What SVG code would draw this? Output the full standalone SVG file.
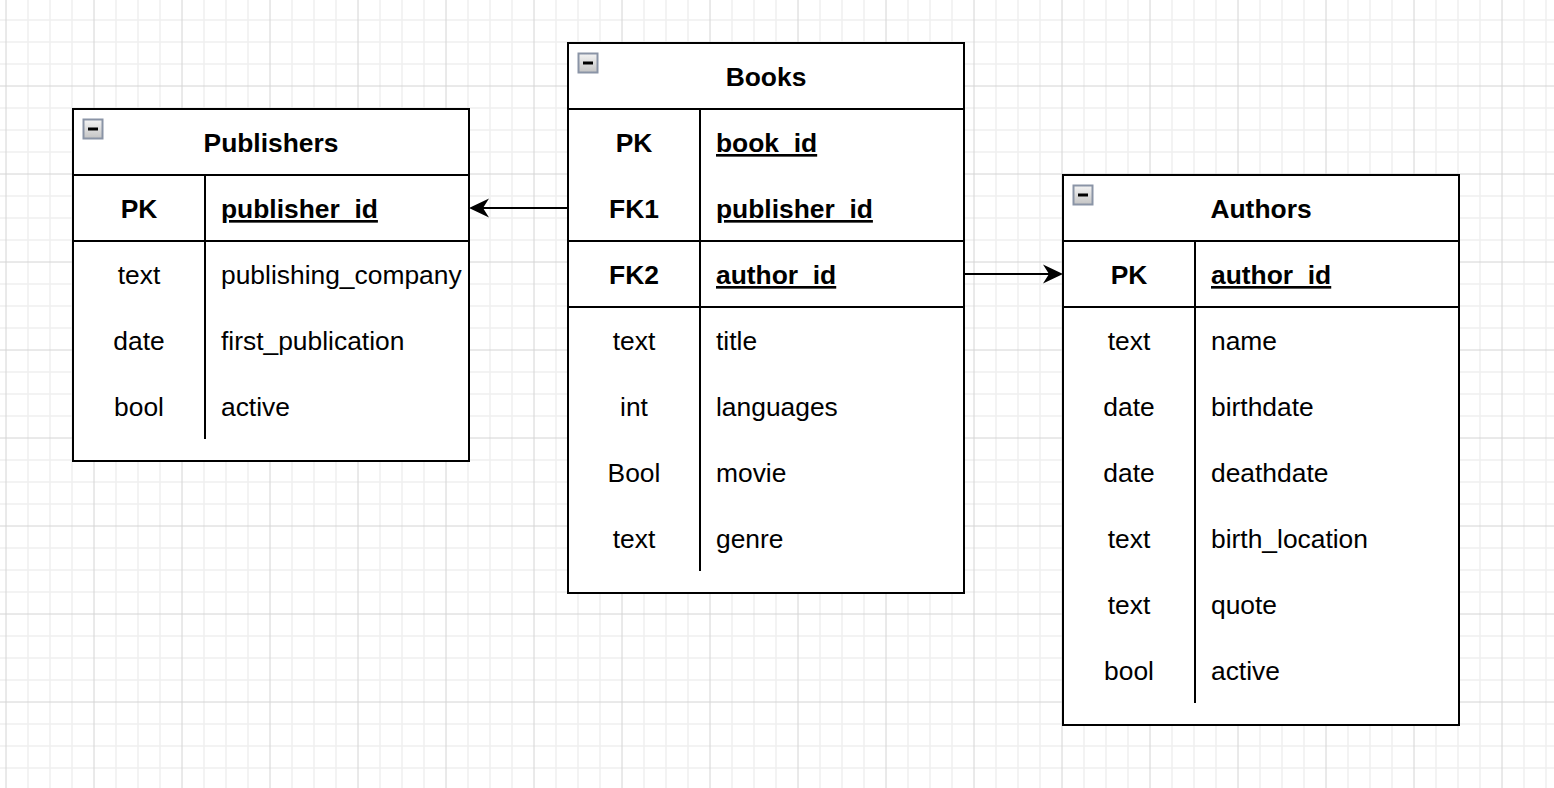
<svg xmlns="http://www.w3.org/2000/svg" width="1554" height="788" viewBox="0 0 1554 788">
<style>
.frame{fill:#fff;stroke:#000;stroke-width:2}
.ln{stroke:#000;stroke-width:2;fill:none}
.t{font-family:"Liberation Sans",Arial,Helvetica,sans-serif;font-size:26.4px;fill:#000}
.b{font-weight:bold}
.c{text-anchor:middle}
.u{text-decoration:underline}
.edge{stroke:#000;stroke-width:2;fill:none;marker-end:url(#arr)}
</style>
<defs>
<pattern id="grid" patternUnits="userSpaceOnUse" x="-5" y="-13" width="88" height="88">
<path d="M33 0V88M55 0V88M77 0V88M0 33H88M0 55H88M0 77H88" stroke="#f0f0f0" stroke-width="1.6" fill="none"/>
<path d="M11 0V88M0 11H88" stroke="#d4d4d4" stroke-width="1" fill="none"/>
</pattern>
<linearGradient id="ig" x1="0" y1="0" x2="0" y2="1">
<stop offset="0" stop-color="#f4f4f4"/>
<stop offset="1" stop-color="#c4c4c4"/>
</linearGradient>
<g id="icon">
<rect x="0" y="0" width="19" height="19" fill="url(#ig)" stroke="#8a94a6" stroke-width="2"/>
<path d="M4.5 9.5H14.5" stroke="#000" stroke-width="3"/>
</g>
<marker id="arr" markerUnits="userSpaceOnUse" viewBox="-22 -11 24 22" refX="-6" refY="0" markerWidth="24" markerHeight="22" orient="auto">
<path d="M0 0L-20 -9.5L-14 0L-20 9.5Z" fill="#000"/>
</marker>
</defs>
<rect width="1554" height="788" fill="#fff"/>
<rect width="1554" height="788" fill="url(#grid)"/>

<g id="publishers">
<rect class="frame" x="73" y="109" width="396" height="352"/>
<use href="#icon" x="83.5" y="119.5"/>
<path class="ln" d="M73 175H469M73 241H469M205 175V439"/>
<text class="t b c" x="271" y="152">Publishers</text>
<text class="t b c" x="139" y="218">PK</text>
<text class="t b u" x="221" y="218">publisher_id</text>
<text class="t c" x="139" y="284">text</text>
<text class="t" x="221" y="284">publishing_company</text>
<text class="t c" x="139" y="350">date</text>
<text class="t" x="221" y="350">first_publication</text>
<text class="t c" x="139" y="416">bool</text>
<text class="t" x="221" y="416">active</text>
</g>

<g id="books">
<rect class="frame" x="568" y="43" width="396" height="550"/>
<use href="#icon" x="578.5" y="53.5"/>
<path class="ln" d="M568 109H964M568 241H964M568 307H964M700 109V571"/>
<text class="t b c" x="766" y="86">Books</text>
<text class="t b c" x="634" y="152">PK</text>
<text class="t b u" x="716" y="152">book_id</text>
<text class="t b c" x="634" y="218">FK1</text>
<text class="t b u" x="716" y="218">publisher_id</text>
<text class="t b c" x="634" y="284">FK2</text>
<text class="t b u" x="716" y="284">author_id</text>
<text class="t c" x="634" y="350">text</text>
<text class="t" x="716" y="350">title</text>
<text class="t c" x="634" y="416">int</text>
<text class="t" x="716" y="416">languages</text>
<text class="t c" x="634" y="482">Bool</text>
<text class="t" x="716" y="482">movie</text>
<text class="t c" x="634" y="548">text</text>
<text class="t" x="716" y="548">genre</text>
</g>

<g id="authors">
<rect class="frame" x="1063" y="175" width="396" height="550"/>
<use href="#icon" x="1073.5" y="185.5"/>
<path class="ln" d="M1063 241H1459M1063 307H1459M1195 241V703"/>
<text class="t b c" x="1261" y="218">Authors</text>
<text class="t b c" x="1129" y="284">PK</text>
<text class="t b u" x="1211" y="284">author_id</text>
<text class="t c" x="1129" y="350">text</text>
<text class="t" x="1211" y="350">name</text>
<text class="t c" x="1129" y="416">date</text>
<text class="t" x="1211" y="416">birthdate</text>
<text class="t c" x="1129" y="482">date</text>
<text class="t" x="1211" y="482">deathdate</text>
<text class="t c" x="1129" y="548">text</text>
<text class="t" x="1211" y="548">birth_location</text>
<text class="t c" x="1129" y="614">text</text>
<text class="t" x="1211" y="614">quote</text>
<text class="t c" x="1129" y="680">bool</text>
<text class="t" x="1211" y="680">active</text>
</g>

<g id="connectors">
<path class="edge" d="M568 208H475"/>
<path class="edge" d="M964 274H1057"/>
</g>
</svg>
